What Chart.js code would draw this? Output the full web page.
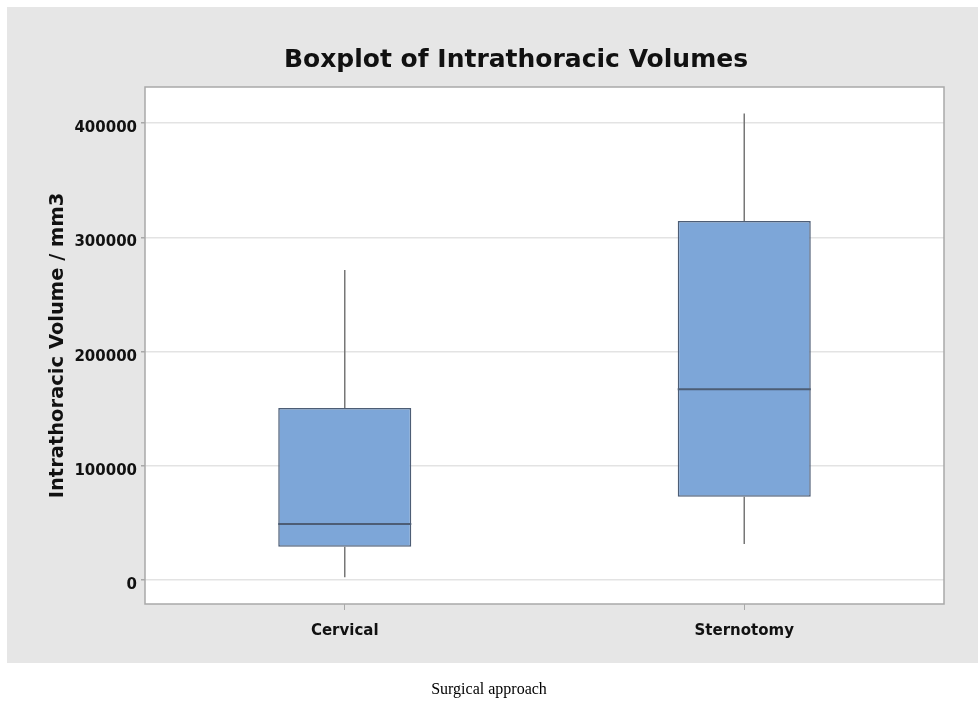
<!DOCTYPE html>
<html>
<head>
<meta charset="utf-8">
<script src="https://cdn.jsdelivr.net/npm/chart.js@4"></script>
<style>
  html, body { margin: 0; padding: 0; background: #ffffff; }
  #wrap { position: relative; width: 978px; height: 707px; }
</style>
</head>
<body>
<div id="wrap"><canvas id="grafico" width="978" height="707"></canvas></div>
<script>
// box plot values
const grupos = ['Cervical', 'Sternotomy'];
const minimos = [2400, 31500];
const cuartil1 = [29200, 72900];
const medianas = [49000, 167000];
const cuartil3 = [150600, 314400];
const maximos = [271500, 408600];
const marcasY = [0, 100000, 200000, 300000, 400000];

const FUENTE = "'DejaVu Sans', sans-serif";

// gray frame, white plot area and border, title and bottom caption
const fondo = {
    id: 'fondo',
    beforeDraw(chart) {
        const ctx = chart.ctx;
        const a = chart.chartArea;
        ctx.save();
        ctx.fillStyle = '#e6e6e6';
        ctx.fillRect(7, 7, 971, 656);
        ctx.fillStyle = '#ffffff';
        ctx.fillRect(a.left, a.top, a.right - a.left, a.bottom - a.top);
        ctx.restore();
    },
    afterDraw(chart) {
        const ctx = chart.ctx;
        const a = chart.chartArea;
        ctx.save();
        ctx.strokeStyle = '#a9a9a9';
        ctx.lineWidth = 1.5;
        ctx.strokeRect(a.left, a.top, a.right - a.left, a.bottom - a.top);
        ctx.fillStyle = '#111111';
        ctx.textAlign = 'center';
        ctx.textBaseline = 'middle';
        ctx.font = "bold 25px " + FUENTE;
        ctx.fillText('Boxplot of Intrathoracic Volumes', 516, 60);
        ctx.font = "16px 'Liberation Serif', 'Times New Roman', serif";
        ctx.fillStyle = '#000000';
        ctx.fillText('Surgical approach', 489, 690);
        ctx.restore();
    }
};

// whiskers and median lines, placed with the chart scales
const bigotes = {
    id: 'bigotes',
    afterDatasetsDraw(chart) {
        const ctx = chart.ctx;
        const x = chart.scales.x;
        const y = chart.scales.y;
        const meta = chart.getDatasetMeta(0);
        ctx.save();
        grupos.forEach((g, i) => {
            const cx = x.getPixelForValue(i);
            const mitad = meta.data[i].width / 2;
            ctx.strokeStyle = '#777777';
            ctx.lineWidth = 1.5;
            ctx.beginPath();
            ctx.moveTo(cx, y.getPixelForValue(cuartil3[i]));
            ctx.lineTo(cx, y.getPixelForValue(maximos[i]));
            ctx.moveTo(cx, y.getPixelForValue(cuartil1[i]));
            ctx.lineTo(cx, y.getPixelForValue(minimos[i]));
            ctx.stroke();
            ctx.strokeStyle = '#4d5d75';
            ctx.lineWidth = 2;
            ctx.beginPath();
            const my = y.getPixelForValue(medianas[i]);
            ctx.moveTo(cx - mitad, my);
            ctx.lineTo(cx + mitad, my);
            ctx.stroke();
        });
        ctx.restore();
    }
};

const cajas = grupos.map((g, i) => [cuartil1[i], cuartil3[i]]);

new Chart(document.getElementById('grafico'), {
    type: 'bar',
    data: {
        labels: grupos,
        datasets: [{
            data: cajas,
            backgroundColor: '#7da6d8',
            borderColor: '#4d5d75',
            borderWidth: 1.5,
            borderSkipped: false,
            categoryPercentage: 1,
            barPercentage: 0.333
        }]
    },
    options: {
        responsive: false,
        animation: false,
        layout: { padding: { left: 38, top: 87, right: 34, bottom: 60 } },
        plugins: {
            legend: { display: false },
            tooltip: { enabled: false }
        },
        scales: {
            x: {
                grid: {
                    offset: false,
                    drawOnChartArea: false,
                    drawTicks: true,
                    tickLength: 6,
                    color: '#a9a9a9'
                },
                border: { display: false },
                ticks: {
                    color: '#111111',
                    padding: 12,
                    font: { family: FUENTE, size: 15, weight: 'bold' }
                },
                afterFit(scale) { scale.height = 43; }
            },
            y: {
                min: -21000,
                max: 431700,
                afterBuildTicks(scale) {
                    scale.ticks = marcasY.map(v => ({ value: v }));
                },
                grid: {
                    color: '#e3e3e3',
                    lineWidth: 1.5,
                    tickLength: 4,
                    tickColor: '#a9a9a9'
                },
                border: { display: false },
                ticks: {
                    color: '#111111',
                    padding: 4,
                    labelOffset: 5,
                    callback: v => String(v),
                    font: { family: FUENTE, size: 15, weight: 'bold' }
                },
                title: {
                    display: true,
                    text: 'Intrathoracic Volume / mm3',
                    color: '#111111',
                    padding: { top: 8, bottom: 0 },
                    font: { family: FUENTE, size: 19.5, weight: 'bold' }
                },
                afterFit(scale) { scale.width = 107; }
            }
        }
    },
    plugins: [fondo, bigotes]
});
</script>
</body>
</html>
